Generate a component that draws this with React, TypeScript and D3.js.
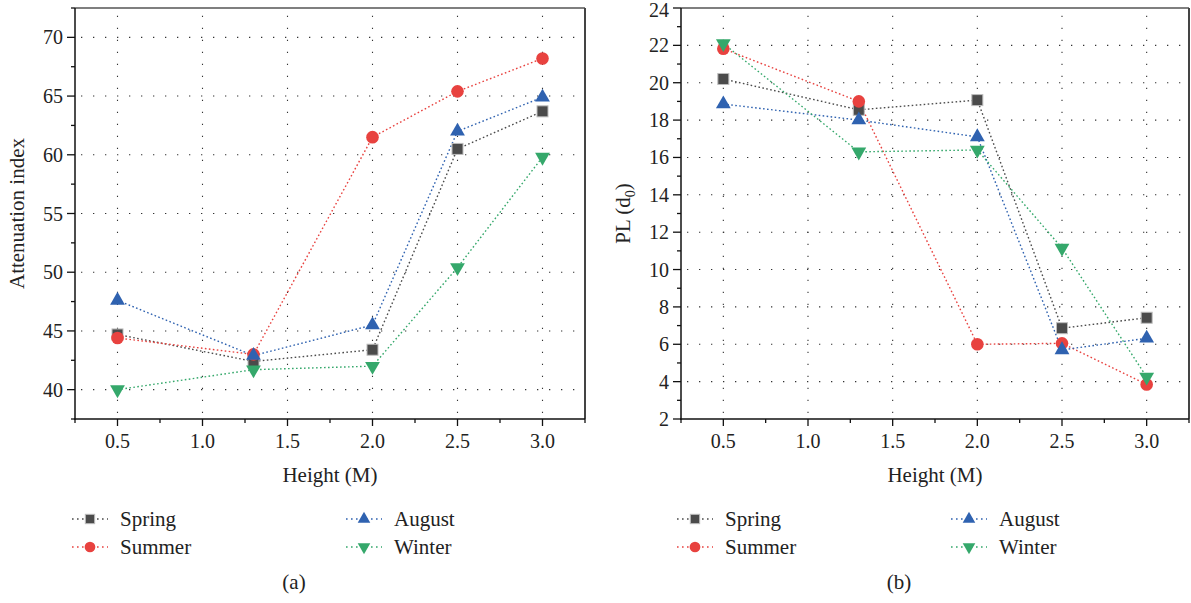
import React from "react";
import * as d3 from "d3";

const heights = [0.5, 1.3, 2.0, 2.5, 3.0];
const seriesNames = ["Spring", "Summer", "August", "Winter"];
const seriesColors = ["#4b4b4b", "#e8423f", "#2f62b0", "#35a86b"];
const seriesShapes = ["square", "circle", "up", "down"];

const springA = [44.7, 42.4, 43.4, 60.5, 63.7];
const summerA = [44.4, 43.0, 61.5, 65.4, 68.2];
const augustA = [47.6, 42.9, 45.5, 62.0, 64.9];
const winterA = [40.0, 41.7, 42.0, 50.4, 59.8];

const springB = [20.2, 18.55, 19.07, 6.86, 7.42];
const summerB = [21.82, 19.0, 6.0, 6.05, 3.85];
const augustB = [18.86, 18.0, 17.1, 5.7, 6.32];
const winterB = [22.1, 16.3, 16.4, 11.15, 4.25];

const xTicks = [0.5, 1.0, 1.5, 2.0, 2.5, 3.0];
const xMinor = [0.25, 0.75, 1.25, 1.75, 2.25, 2.75, 3.25];
const yTicksA = [40, 45, 50, 55, 60, 65, 70];
const yMinorA = [37.5, 42.5, 47.5, 52.5, 57.5, 62.5, 67.5, 72.5];
const yTicksB = [2, 4, 6, 8, 10, 12, 14, 16, 18, 20, 22, 24];
const yMinorB = [3, 5, 7, 9, 11, 13, 15, 17, 19, 21, 23];

const FONT = "'Liberation Serif', 'Times New Roman', serif";

function Marker({ shape, color, x, y, s = 1 }: { shape: string; color: string; x: number; y: number; s?: number }) {
  if (shape === "square") {
    const h = 5.5 * s;
    return <rect x={x - h} y={y - h} width={2 * h} height={2 * h} fill={color} stroke="#bdbdbd" strokeWidth={1} />;
  }
  if (shape === "circle") {
    return <circle cx={x} cy={y} r={6.3 * s} fill={color} />;
  }
  const sym = d3.symbol().type(d3.symbolTriangle).size(95 * s * s)();
  return <path d={sym || ""} fill={color} transform={`translate(${x},${y})${shape === "down" ? " rotate(180)" : ""}`} />;
}

function Panel(props: {
  left: number; right: number; top: number; bottom: number;
  yDomain: [number, number]; yTicks: number[]; yMinor: number[]; yTickFmt: (v: number) => string;
  series: number[][]; yTitle: React.ReactNode; caption: string; gridY: number[];
}) {
  const { left, right, top, bottom } = props;
  const x = d3.scaleLinear().domain([0.25, 3.25]).range([left, right]);
  const y = d3.scaleLinear().domain(props.yDomain).range([bottom, top]);
  const line = d3.line<number>().x((_, i) => x(heights[i])).y((d) => y(d));
  const cx = (left + right) / 2;
  const legCols = [cx - 258, cx + 16];
  return (
    <g>
      {props.gridY.map((v) => (
        <line key={"gy" + v} x1={left} x2={right} y1={y(v)} y2={y(v)} stroke="#333" strokeWidth={1.1} strokeDasharray="1.3,10.7" strokeDashoffset={-6} />
      ))}
      {xTicks.map((v) => (
        <line key={"gx" + v} x1={x(v)} x2={x(v)} y1={bottom} y2={top} stroke="#333" strokeWidth={1.1} strokeDasharray="1.3,10.7" strokeDashoffset={-6} />
      ))}
      <line x1={left} x2={right} y1={top} y2={top} stroke="#555" strokeWidth={1.5} />
      <line x1={right} x2={right} y1={top} y2={bottom} stroke="#444" strokeWidth={2} />
      <line x1={left} x2={left} y1={top} y2={bottom + 0.75} stroke="#111" strokeWidth={1.5} />
      <line x1={left - 0.75} x2={right} y1={bottom} y2={bottom} stroke="#111" strokeWidth={1.5} />
      {props.yTicks.map((v) => (
        <g key={"yt" + v}>
          <line x1={left - 8} x2={left} y1={y(v)} y2={y(v)} stroke="#111" strokeWidth={1.3} />
          <text x={left - 12} y={y(v)} dy={y(v) < 12 ? "0.45em" : "0.35em"} textAnchor="end" fontSize={20} fontFamily={FONT} fill="#222">{props.yTickFmt(v)}</text>
        </g>
      ))}
      {props.yMinor.map((v) => (
        <line key={"ym" + v} x1={left - 4} x2={left} y1={y(v)} y2={y(v)} stroke="#111" strokeWidth={1.3} />
      ))}
      {xTicks.map((v) => (
        <g key={"xt" + v}>
          <line x1={x(v)} x2={x(v)} y1={bottom} y2={bottom + 7} stroke="#111" strokeWidth={1.3} />
          <text x={x(v)} y={bottom + 29} textAnchor="middle" fontSize={20} fontFamily={FONT} fill="#222">{d3.format(".1f")(v)}</text>
        </g>
      ))}
      {xMinor.map((v) => (
        <line key={"xm" + v} x1={x(v)} x2={x(v)} y1={bottom} y2={bottom + 4} stroke="#111" strokeWidth={1.3} />
      ))}
      {props.series.map((vals, si) => (
        <path key={"l" + si} d={line(vals) || ""} fill="none" stroke={seriesColors[si]} strokeWidth={1.4} strokeDasharray="1.6,2.4" />
      ))}
      {props.series.map((vals, si) =>
        vals.map((v, i) => (
          <Marker key={`m${si}-${i}`} shape={seriesShapes[si]} color={seriesColors[si]} x={x(heights[i])} y={y(v)} />
        ))
      )}
      <text x={cx} y={bottom + 63} textAnchor="middle" fontSize={21} fontFamily={FONT} fill="#222">Height (M)</text>
      <text transform={`translate(${left - 51},${(top + bottom) / 2}) rotate(-90)`} textAnchor="middle" fontSize={21} fontFamily={FONT} fill="#222">{props.yTitle}</text>
      {seriesNames.map((name, si) => {
        const col = Math.floor(si / 2);
        const row = si % 2;
        const lx = legCols[col];
        const ly = 519 + row * 28;
        return (
          <g key={"lg" + si}>
            <line x1={lx} x2={lx + 36} y1={ly} y2={ly} stroke={seriesColors[si]} strokeWidth={1.3} strokeDasharray="1.6,3.4" />
            <Marker shape={seriesShapes[si]} color={seriesColors[si]} x={lx + 18} y={ly} s={0.85} />
            <text x={lx + 48} y={ly} dy="0.35em" fontSize={21} fontFamily={FONT} fill="#222">{name}</text>
          </g>
        );
      })}
      <text x={cx - 36} y={589} textAnchor="middle" fontSize={21} fontFamily={FONT} fill="#222">{props.caption}</text>
    </g>
  );
}

export default function App() {
  return (
    <svg width={1191} height={603} style={{ position: "absolute", left: 0, top: 0, background: "#fff" }}>
      <Panel
        left={75} right={585} top={8} bottom={419}
        yDomain={[37.5, 72.5]} yTicks={yTicksA} yMinor={yMinorA} yTickFmt={(v) => String(v)}
        gridY={yTicksA}
        series={[springA, summerA, augustA, winterA]}
        yTitle="Attenuation index" caption="(a)"
      />
      <Panel
        left={681} right={1189} top={8} bottom={419}
        yDomain={[2, 24]} yTicks={yTicksB} yMinor={yMinorB} yTickFmt={(v) => String(v)}
        gridY={yTicksB.filter((v) => v > 2 && v < 24)}
        series={[springB, summerB, augustB, winterB]}
        yTitle={<>PL (d<tspan fontSize={14} dy={5}>0</tspan><tspan dy={-5}>)</tspan></>} caption="(b)"
      />
    </svg>
  );
}
